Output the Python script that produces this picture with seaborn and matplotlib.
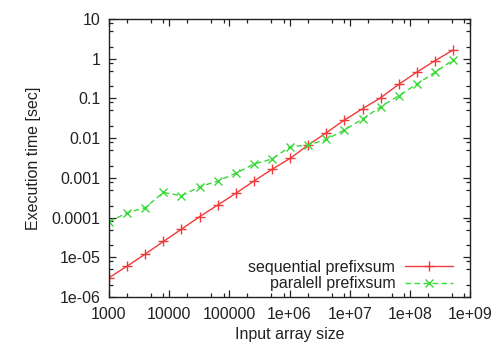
import matplotlib
matplotlib.use("Agg")
import matplotlib.pyplot as plt
import matplotlib.ticker as mticker
import seaborn as sns
import pandas as pd
import numpy as np

sizes = [1000 * 2 ** k for k in range(20)]
sequential = [3.05e-6, 6.0e-6, 1.2e-5, 2.5e-5, 5.1e-5, 1.05e-4, 2.06e-4, 4.07e-4,
              8.3e-4, 1.64e-3, 3.1e-3, 6.7e-3, 0.0137, 0.0286, 0.055, 0.104,
              0.226, 0.46, 0.89, 1.66]
parallel = [7.8e-5, 1.32e-4, 1.77e-4, 4.3e-4, 3.54e-4, 5.97e-4, 8.3e-4, 1.3e-3,
            2.23e-3, 2.98e-3, 6.07e-3, 6.7e-3, 9.3e-3, 0.016, 0.0303, 0.0618,
            0.117, 0.23, 0.454, 0.93]
labels = ["sequential prefixsum", "paralell prefixsum"]
xticks = [1e3, 1e4, 1e5, 1e6, 1e7, 1e8, 1e9]
xticklabels = ["1000", "10000", "100000", "1e+06", "1e+07", "1e+08", "1e+09"]
yticks = [1e-6, 1e-5, 1e-4, 1e-3, 1e-2, 1e-1, 1, 10]
yticklabels = ["1e-06", "1e-05", "0.0001", "0.001", "0.01", "0.1", "1", "10"]

sns.set_style("ticks")
plt.rcParams['font.family'] = ['Liberation Sans', 'DejaVu Sans']

red = "#f03a3a"
green = "#3ad83a"
fs = 11.5

fig = plt.figure(figsize=(5.0, 3.49), dpi=100)
ax = fig.add_axes([0.218, 0.149, 0.722, 0.7966])

df_seq = pd.DataFrame({"size": sizes, "time": sequential})
df_par = pd.DataFrame({"size": sizes, "time": parallel})

sns.lineplot(data=df_seq, x="size", y="time", ax=ax, color=red,
             marker="+", markersize=7, markeredgewidth=1.0, markeredgecolor=red,
             linewidth=1.0, label=labels[0])
sns.lineplot(data=df_par, x="size", y="time", ax=ax, color=green,
             marker="x", markersize=6, markeredgewidth=1.0, markeredgecolor=green,
             linewidth=1.0, linestyle=(0, (4, 2.5)), label=labels[1])

ax.set_xscale("log")
ax.set_yscale("log")
ax.set_xlim(1e3, 1e9)
ax.set_ylim(1e-6, 10)
ax.set_xticks(xticks)
ax.set_xticklabels(xticklabels)
ax.set_yticks(yticks)
ax.set_yticklabels(yticklabels)
ax.xaxis.set_minor_locator(mticker.LogLocator(base=10, subs=[2, 5, 8], numticks=20))
ax.yaxis.set_minor_locator(mticker.LogLocator(base=10, subs=[2, 5, 8], numticks=20))
ax.xaxis.set_minor_formatter(mticker.NullFormatter())
ax.yaxis.set_minor_formatter(mticker.NullFormatter())

ax.tick_params(which="both", direction="in", top=True, right=True, colors="#222222",
               labelsize=fs, width=0.9)
ax.tick_params(which="major", length=5)
ax.tick_params(which="minor", length=3)
ax.tick_params(axis="x", pad=7)
ax.tick_params(axis="y", pad=6)
for s in ax.spines.values():
    s.set_visible(True)
    s.set_linewidth(1.0)
    s.set_color("#222222")

ax.set_xlabel("Input array size", fontsize=fs, color="#222222", labelpad=4)
ax.set_ylabel("Execution time [sec]", fontsize=fs, color="#222222", labelpad=8)

leg = ax.legend(loc="lower right", bbox_to_anchor=(0.983, -0.02), frameon=False,
                markerfirst=False, fontsize=fs, handlelength=3.0, numpoints=1,
                labelspacing=0.1, borderaxespad=0.3, handletextpad=0.6)
for t in leg.get_texts():
    t.set_color("#222222")

fig.savefig("out.png", dpi=100)
